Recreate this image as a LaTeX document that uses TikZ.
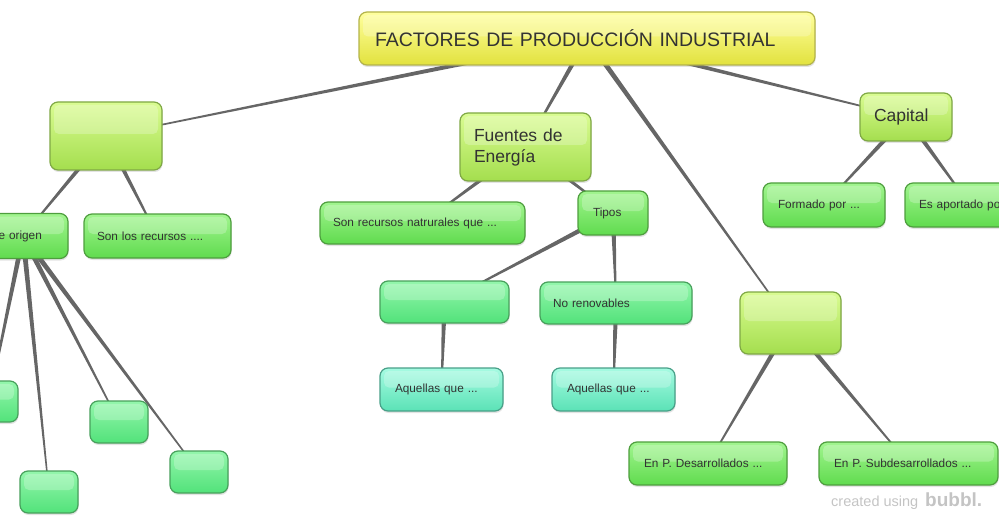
\documentclass[tikz,border=0pt]{standalone}
\usepackage{fontspec}
\setmainfont{Liberation Sans}
\usetikzlibrary{calc, backgrounds, shadows}
\definecolor{txtc}{HTML}{333333}
\definecolor{linkc}{HTML}{666666}
\definecolor{titletop}{HTML}{FFFF9E}
\definecolor{titlebot}{HTML}{E2E23E}
\definecolor{titleline}{HTML}{B3B34A}
\definecolor{ygtop}{HTML}{DAFC92}
\definecolor{ygbot}{HTML}{A4DE4E}
\definecolor{ygline}{HTML}{7FA845}
\definecolor{grtop}{HTML}{A2F590}
\definecolor{grbot}{HTML}{60DB4E}
\definecolor{grline}{HTML}{4E9E3E}
\definecolor{minttop}{HTML}{94F7AC}
\definecolor{mintbot}{HTML}{52E27A}
\definecolor{mintline}{HTML}{48A05C}
\definecolor{tealtop}{HTML}{A6FBE2}
\definecolor{tealbot}{HTML}{5BE2B6}
\definecolor{tealline}{HTML}{48A088}
\definecolor{wmarkc}{HTML}{C4C4C4}
\tikzset{
  bub/.style     = {rectangle, rounded corners=8pt, line width=1.2pt, text=txtc,
                    align=left, inner sep=0pt,
                    drop shadow={opacity=0.22, shadow xshift=0.6pt, shadow yshift=-2pt},
                    path picture={\fill[white, opacity=0.24, rounded corners=5pt]
                      ([xshift=4pt, yshift=-3pt]path picture bounding box.north west)
                      rectangle ([xshift=-4pt, yshift=2pt]path picture bounding box.east);}},
  titlebub/.style= {bub, top color=titletop, bottom color=titlebot, draw=titleline,
                    font=\fontsize{19.5}{23}\selectfont},
  ygbub/.style   = {bub, top color=ygtop, bottom color=ygbot, draw=ygline,
                    font=\fontsize{17.5}{21}\selectfont},
  grbub/.style   = {bub, top color=grtop, bottom color=grbot, draw=grline,
                    font=\fontsize{11.8}{14}\selectfont},
  mintbub/.style = {bub, top color=minttop, bottom color=mintbot, draw=mintline,
                    font=\fontsize{11.8}{14}\selectfont},
  tealbub/.style = {bub, top color=tealtop, bottom color=tealbot, draw=tealline,
                    font=\fontsize{11.8}{14}\selectfont},
  sz/.style 2 args = {minimum width=#1, minimum height=#2},
  wmark/.style   = {text=wmarkc, inner sep=0pt, anchor=base west},
}
% tapered connector, wide at the parent, thin at the child
\newcommand{\link}[2]{\fill[linkc] ($(#1)!2.6pt!90:(#2)$) -- ($(#1)!2.6pt!-90:(#2)$)
  -- ($(#2)!0.6pt!90:(#1)$) -- ($(#2)!0.6pt!-90:(#1)$) -- cycle;}

\begin{document}
\begin{tikzpicture}[x=1pt, y=-1pt]
    \useasboundingbox (0,0) rectangle (999,524);
    % main topic
    \node[titlebub, sz={456pt}{53pt}, text width=424pt] (title) at (587,38.5) {FACTORES DE PRODUCCIÓN INDUSTRIAL};
    % second level
    \node[ygbub, sz={112pt}{68pt}] (recA) at (106,136) {};
    \node[ygbub, sz={131pt}{68pt}, text width=103pt] (fuentes) at (525.5,147) {Fuentes de\\Energía};
    \node[ygbub, sz={101pt}{62pt}] (recB) at (790.5,323) {};
    \node[ygbub, sz={92pt}{48pt}, text width=64pt] (capital) at (906,117) {Capital};
    % left branch
    \node[grbub, sz={90pt}{45pt}, text width=62pt] (origen) at (23,236) {de origen};
    \node[grbub, sz={147pt}{44pt}, text width=121pt] (sonrec) at (157.5,236) {Son los recursos ....};
    \node[mintbub, sz={58pt}{41pt}] (leafA) at (-11,401.5) {};
    \node[mintbub, sz={58pt}{42pt}] (leafB) at (119,422) {};
    \node[mintbub, sz={58pt}{42pt}] (leafC) at (49,492) {};
    \node[mintbub, sz={58pt}{42pt}] (leafD) at (199,472) {};
    % energy branch
    \node[grbub, sz={205pt}{42pt}, text width=179pt] (natur) at (422.5,223) {Son recursos natrurales que ...};
    \node[grbub, sz={70pt}{44pt}, text width=40pt] (tipos) at (613,213) {Tipos};
    \node[mintbub, sz={129pt}{42pt}] (renov) at (444.5,302) {};
    \node[mintbub, sz={152pt}{42pt}, text width=126pt] (norenov) at (616,303) {No renovables};
    \node[tealbub, sz={123pt}{43pt}, text width=93pt] (aqA) at (441.5,389.5) {Aquellas que ...};
    \node[tealbub, sz={123pt}{43pt}, text width=93pt] (aqB) at (613.5,389.5) {Aquellas que ...};
    % right branches
    \node[grbub, sz={158pt}{43pt}, text width=128pt] (desa) at (708,463.5) {En P. Desarrollados ...};
    \node[grbub, sz={179pt}{43pt}, text width=149pt] (subd) at (908.5,463.5) {En P. Subdesarrollados ...};
    \node[grbub, sz={122pt}{44pt}, text width=92pt] (formado) at (824,205) {Formado por ...};
    \node[grbub, sz={130pt}{44pt}, text width=102pt] (aport) at (970,205) {Es aportado por ...};
    % connectors
    \begin{scope}[on background layer]
        \foreach \a/\b in {title/recA, title/fuentes, title/recB, title/capital,
            recA/origen, recA/sonrec, origen/leafA, origen/leafB, origen/leafC, origen/leafD,
            fuentes/natur, fuentes/tipos, tipos/renov, tipos/norenov, renov/aqA, norenov/aqB,
            recB/desa, recB/subd, capital/formado, capital/aport}{\link{\a}{\b}}
    \end{scope}
    % watermark
    \node[wmark, font=\fontsize{14.5}{16}\selectfont] (made) at (831,506) {created using};
    \node[wmark, font=\fontsize{19}{21}\selectfont\bfseries] (bubbl) at (925,506) {bubbl.};
\end{tikzpicture}
\end{document}
